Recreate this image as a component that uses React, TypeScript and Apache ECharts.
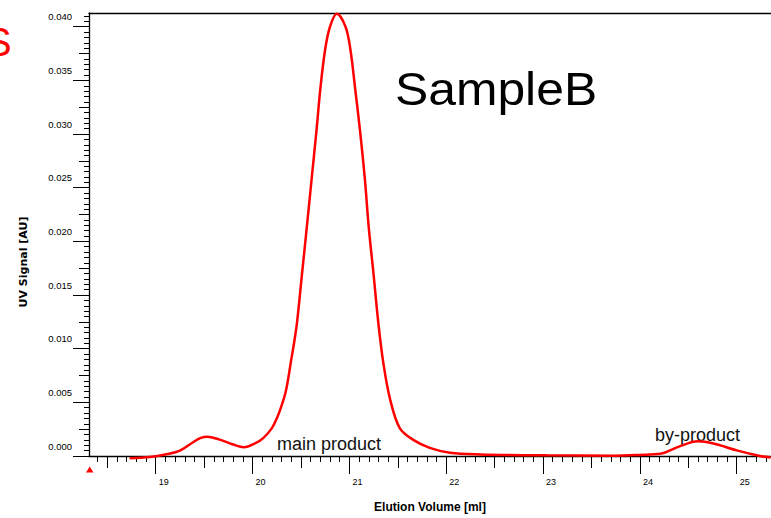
import React, { useEffect, useRef } from "react";
import * as echarts from "echarts";

// Elution volume (ml) and UV signal (AU)
const elutionVolume = [
  18.73, 18.94, 19.11, 19.25, 19.39, 19.46, 19.53, 19.66, 19.8, 19.91, 20.03,
  20.11, 20.2, 20.25, 20.3, 20.34, 20.37, 20.4, 20.43, 20.46, 20.51, 20.56,
  20.61, 20.66, 20.7, 20.75, 20.8, 20.87, 20.96, 21.01, 21.06, 21.11, 21.16,
  21.2, 21.25, 21.3, 21.35, 21.42, 21.52, 21.66, 21.83, 22.04, 22.35, 23.04,
  23.73, 24.0, 24.21, 24.41, 24.6, 24.76, 25.01, 25.24, 25.35,
];
const uvSignal = [
  -0.0002, -0.0001, 0.00016, 0.0005, 0.0013, 0.00167, 0.0018, 0.00153, 0.00107,
  0.00082, 0.0012, 0.00167, 0.0026, 0.0035, 0.0047, 0.0059, 0.0073, 0.009,
  0.0106, 0.0125, 0.0169, 0.0213, 0.0258, 0.0303, 0.0342, 0.0379, 0.04, 0.0412,
  0.04, 0.0379, 0.0342, 0.0303, 0.0258, 0.0213, 0.0169, 0.0123, 0.0087, 0.0053,
  0.0026, 0.0015, 0.00076, 0.0003, 0.00015, 0.00006, 0.00003, 0.0001, 0.0002,
  0.0009, 0.00137, 0.00116, 0.0005, 0.0, -0.00015,
];

const xLabelTicks = [19, 20, 21, 22, 23, 24, 25];
const xHalfTicks = [18.5, 19.5, 20.5, 21.5, 22.5, 23.5, 24.5];
const yLabelTicks = [0, 0.005, 0.01, 0.015, 0.02, 0.025, 0.03, 0.035, 0.04];
const yHalfTicks = [0.0025, 0.0075, 0.0125, 0.0175, 0.0225, 0.0275, 0.0325, 0.0375];

const X_MIN = 18.311;
const X_MAX = 25.354;
const Y_MIN = 0;
const Y_MAX = 0.04128;

const xMinorTicks: number[] = [];
for (let k = 184; k <= 253; k++) xMinorTicks.push(Math.round(k) / 10);
const yMinorTicks: number[] = [];
for (let k = 0; k <= 82; k++) yMinorTicks.push(Math.round(k * 5) / 10000);

const FONT = "'Liberation Sans', Arial, sans-serif";

export default function App() {
  const ref = useRef<HTMLDivElement>(null);
  useEffect(() => {
    if (!ref.current) return;
    const chart = echarts.init(ref.current, undefined, { renderer: "svg" });
    const baseX = {
      type: "value" as const,
      gridIndex: 0,
      min: X_MIN,
      max: X_MAX,
      position: "bottom" as const,
      offset: 0,
      splitLine: { show: false },
    };
    const baseY = {
      type: "value" as const,
      gridIndex: 0,
      min: Y_MIN,
      max: Y_MAX,
      position: "left" as const,
      offset: 0,
      splitLine: { show: false },
    };
    chart.setOption({
      animation: false,
      backgroundColor: "#ffffff",
      grid: { left: 89, right: 0, top: 13, bottom: 53, containLabel: false },
      xAxis: [
        {
          ...baseX,
          name: "Elution Volume [ml]",
          nameLocation: "middle",
          nameGap: 45,
          nameTextStyle: { fontFamily: FONT, fontSize: 12, fontWeight: "bold", color: "#000" },
          axisLine: { show: true, lineStyle: { color: "#000", width: 1.3 } },
          axisTick: { show: true, length: 18, customValues: xLabelTicks, lineStyle: { color: "#000" } },
          axisLabel: {
            show: true,
            customValues: xLabelTicks,
            formatter: (v: number) => String(Math.round(v)),
            align: "left",
            padding: [4, 0, 0, 3],
            margin: 17,
            fontSize: 9,
            fontFamily: FONT,
            color: "#000",
          },
        },
        {
          ...baseX,
          axisLine: { show: false },
          axisTick: { show: true, length: 12, customValues: xHalfTicks, lineStyle: { color: "#000" } },
          axisLabel: { show: false },
        },
        {
          ...baseX,
          axisLine: { show: false },
          axisTick: { show: true, length: 6, customValues: xMinorTicks, lineStyle: { color: "#000" } },
          axisLabel: { show: false },
        },
        {
          ...baseX,
          position: "top",
          axisLine: { show: true, lineStyle: { color: "#000", width: 1.3 } },
          axisTick: { show: false },
          axisLabel: { show: false },
        },
      ],
      yAxis: [
        {
          ...baseY,
          axisLine: { show: true, lineStyle: { color: "#000", width: 1.3 } },
          axisTick: { show: true, length: 16, customValues: yLabelTicks, lineStyle: { color: "#000" } },
          axisLabel: {
            show: true,
            customValues: yLabelTicks,
            formatter: (v: number) => v.toFixed(3),
            verticalAlign: "bottom",
            padding: [0, 0, 5, 0],
            margin: 17,
            fontSize: 9.5,
            fontFamily: FONT,
            color: "#000",
          },
        },
        {
          ...baseY,
          axisLine: { show: false },
          axisTick: { show: true, length: 10, customValues: yHalfTicks, lineStyle: { color: "#000" } },
          axisLabel: { show: false },
        },
        {
          ...baseY,
          axisLine: { show: false },
          axisTick: { show: true, length: 5, customValues: yMinorTicks, lineStyle: { color: "#000" } },
          axisLabel: { show: false },
        },
      ],
      series: [
        {
          type: "line",
          xAxisIndex: 0,
          yAxisIndex: 0,
          data: elutionVolume.map((v, i) => [v, uvSignal[i]]),
          smooth: 0.35,
          showSymbol: false,
          clip: false,
          lineStyle: { color: "#ff0000", width: 2.5 },
        },
      ],
      graphic: [
        {
          type: "text",
          x: -15,
          y: 42,
          style: { text: "S", fill: "#ff0000", font: `40px ${FONT}`, textVerticalAlign: "middle" },
        },
        {
          type: "text",
          x: 395,
          y: 89,
          scaleX: 1.06,
          style: { text: "SampleB", fill: "#000", font: `47px ${FONT}`, textVerticalAlign: "middle" },
        },
        {
          type: "text",
          x: 277,
          y: 444,
          style: { text: "main product", fill: "#111", font: `18px ${FONT}`, textVerticalAlign: "middle" },
        },
        {
          type: "text",
          x: 655,
          y: 435,
          style: { text: "by-product", fill: "#111", font: `18px ${FONT}`, textVerticalAlign: "middle" },
        },
        {
          type: "text",
          x: 23,
          y: 262,
          rotation: Math.PI / 2,
          style: {
            text: "UV Signal [AU]",
            fill: "#000",
            font: `bold 11px 'DejaVu Sans', sans-serif`,
            textAlign: "center",
            textVerticalAlign: "middle",
          },
        },
        {
          type: "polygon",
          shape: { points: [[86, 472.5], [93.5, 472.5], [89.7, 466.5]] },
          style: { fill: "#ff0000" },
        },
      ],
    });
    return () => chart.dispose();
  }, []);
  return <div ref={ref} style={{ width: 771, height: 518, position: "fixed", left: 0, top: 0 }} />;
}
